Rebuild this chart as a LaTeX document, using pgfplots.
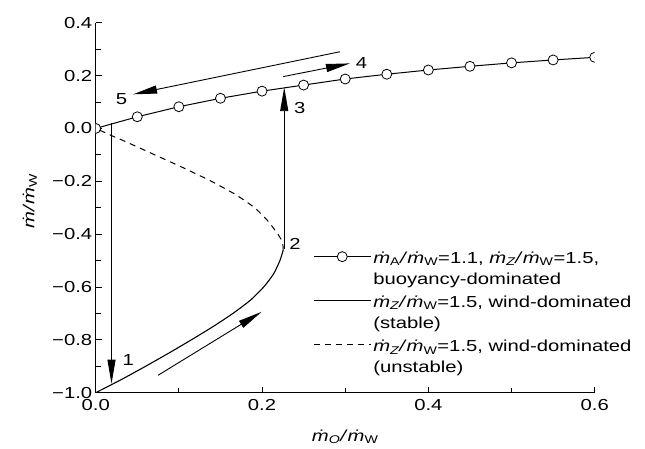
\documentclass[border=0pt]{standalone}
\usepackage{fontspec}
\setmainfont{Liberation Sans}[FakeStretch=1.27]
\usepackage{pgfplots}
\pgfplotsset{compat=1.18}
\usetikzlibrary{arrows.meta}
\newcommand\md{\textit{\.m}}
\newcommand\sub[1]{\textsubscript{#1}}
\newcommand\two[2]{\vtop{\hbox{\strut#1}\hbox{\strut#2}}}
\begin{document}
\begin{tikzpicture}[font=\fontsize{16}{21}\selectfont,
  arr/.style={line width=0.9bp,-{Triangle[length=24bp,width=8bp]}}]
\useasboundingbox (-95.7bp,-56.3bp) rectangle (549.3bp,392.7bp);
\begin{axis}[at={(0,0)},anchor=south west, scale only axis, width=499bp, height=370bp,
 xmin=0,xmax=0.6,ymin=-1,ymax=0.4,
 axis x line*=bottom, axis y line*=left, axis line style={line width=0.8bp,-},
 xtick={0,0.2,0.4,0.6}, xticklabels={0.0,0.2,0.4,0.6},
 minor xtick={0.1,0.3,0.5},
 ytick={-1,-0.8,-0.6,-0.4,-0.2,0,0.2,0.4},
 yticklabels={\textminus1.0,\textminus0.8,\textminus0.6,\textminus0.4,\textminus0.2,0.0,0.2,0.4},
 minor ytick={-0.9,-0.7,-0.5,-0.3,-0.1,0.1,0.3},
 xticklabel style={yshift=-3bp},
 tick align=inside, major tick length=6bp, minor tick length=5bp,
 tick style={line width=0.8bp,black},
 xlabel={\md\sub{\itshape O}\textit{/}\md\sub{W}},
 ylabel={\md\textit{/}\md\sub{W}},
 xlabel style={at={(axis description cs:0.5,-0.119)},anchor=center},
 ylabel style={at={(axis description cs:-0.132,0.518)},anchor=center},
 clip marker paths=true,
 legend image code/.code={\draw[mark repeat=2,mark phase=2,#1] plot coordinates {(0bp,0bp) (28.5bp,0bp) (57bp,0bp)};},
 legend cell align=left,
 legend style={draw=none, fill=none, at={(rel axis cs:0.4355,0.39)}, anchor=north west,
   inner sep=0pt, row sep=28bp, nodes={inner ysep=0pt}},
]
\addplot[black, line width=1bp, mark=*, mark size=5bp, mark options={fill=white,draw=black,line width=0.8bp,solid}]
 coordinates {(0,0) (0.05,0.044) (0.1,0.082) (0.15,0.114) (0.2,0.141) (0.25,0.164) (0.3,0.187)
 (0.35,0.205) (0.4,0.221) (0.45,0.235) (0.5,0.248) (0.55,0.259) (0.6,0.269)};
\addlegendentry{\two{\md\sub{A}\textit{/}\md\sub{W}=1.1, \md\sub{\itshape Z}\textit{/}\md\sub{W}=1.5,}{buoyancy-dominated}}
\addplot[black, line width=1.1bp, smooth, tension=0.4]
 coordinates {(0,-1) (0.031,-0.95) (0.060,-0.9) (0.088,-0.85) (0.115,-0.8) (0.141,-0.75) (0.165,-0.7)
 (0.186,-0.65) (0.202,-0.6) (0.214,-0.55) (0.2215,-0.5) (0.2255,-0.46)};
\addlegendentry{\two{\md\sub{\itshape Z}\textit{/}\md\sub{W}=1.5, wind-dominated}{(stable)}}
\addplot[black, line width=1bp, dash pattern=on 6bp off 5bp, smooth, tension=0.4]
 coordinates {(0.2255,-0.46) (0.2245,-0.43) (0.219,-0.4) (0.207,-0.35) (0.191,-0.3) (0.168,-0.25) (0.139,-0.2)
 (0.106,-0.15) (0.071,-0.1) (0.036,-0.05) (0.021,-0.03) (0,0)};
\addlegendentry{\two{\md\sub{\itshape Z}\textit{/}\md\sub{W}=1.5, wind-dominated}{(unstable)}}
\draw[arr] (axis cs:0.019,0.019) -- (axis cs:0.019,-0.966);
\draw[arr] (axis cs:0.2267,-0.455) -- (axis cs:0.2267,0.156);
\draw[arr] (axis cs:0.075,-0.934) -- (axis cs:0.1995,-0.694);
\draw[arr] (axis cs:0.2255,0.196) -- (axis cs:0.3057,0.246);
\draw[arr] (axis cs:0.2936,0.290) -- (axis cs:0.045,0.129);
\node at (axis cs:0.039,-0.876) {1};
\node at (axis cs:0.2395,-0.437) {2};
\node at (axis cs:0.2455,0.076) {3};
\node at (axis cs:0.3197,0.246) {4};
\node at (axis cs:0.031,0.110) {5};
\end{axis}
\end{tikzpicture}
\end{document}
